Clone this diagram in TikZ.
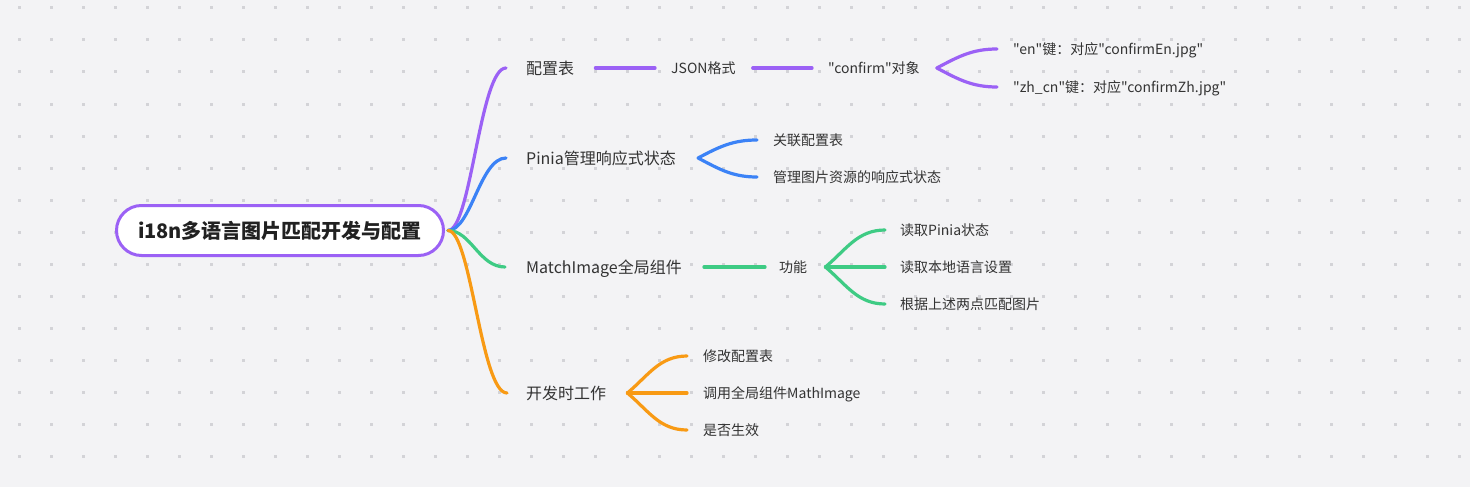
\documentclass[tikz,border=0pt]{standalone}
\usepackage{fontspec}
\setmainfont{Noto Sans CJK SC}[Ligatures=TeXOff]
\usetikzlibrary{positioning}

\definecolor{bgc}{HTML}{F3F3F5}
\definecolor{dotc}{HTML}{D3D3D7}
\definecolor{txtc}{HTML}{333333}
\definecolor{purp}{HTML}{9B61F5}
\definecolor{blu}{HTML}{3B82F6}
\definecolor{grn}{HTML}{3ECB84}
\definecolor{orng}{HTML}{F89A14}

\begin{document}
\begin{tikzpicture}[x=1pt,y=-1pt,line cap=round,
    root node/.style={draw=purp,line width=3pt,fill=white,rounded corners=25pt,minimum width=327pt,minimum height=50pt,inner sep=0pt,text=black!87,font=\fontsize{20}{24}\selectfont\bfseries},
    lvl1 node/.style={anchor=west,inner sep=0pt,text=txtc,text height=13pt,text depth=0.6pt,font=\fontsize{16}{19}\selectfont},
    lvl2 node/.style={anchor=west,inner sep=0pt,text=txtc,text height=11.4pt,text depth=0.6pt,font=\fontsize{14}{17}\selectfont},
    branch/.style={line width=3.2pt}]
    % background and dot grid
    \fill[bgc] (0,0) rectangle (1470,487);
    \foreach \i in {0,...,45}
        \foreach \j in {0,...,14}
            \fill[dotc] (19+32*\i-1.5,8+32*\j-1.5) rectangle +(3,3);

    \node[root node] (root) at (280,230.5) {i18n多语言图片匹配开发与配置};
    \coordinate (hub) at ([xshift=3pt]root.east);

    % first level
    \node[lvl1 node] (cfg) at (526,68) {配置表};
    \node[lvl1 node] (pinia) at (526,158) {Pinia管理响应式状态};
    \node[lvl1 node] (match) at (526,267) {MatchImage全局组件};
    \node[lvl1 node] (dev) at (526,393) {开发时工作};

    % second level
    \node[lvl2 node] (json) at (671,68) {JSON格式};
    \node[lvl2 node] (confirm) at (828,68) {"confirm"对象};
    \node[lvl2 node] (en) at (1013,49) {"en"键：对应"confirmEn.jpg"};
    \node[lvl2 node] (zh) at (1013,87) {"zh\_cn"键：对应"confirmZh.jpg"};

    \node[lvl2 node] (link) at (773,140) {关联配置表};
    \node[lvl2 node] (state) at (773,177) {管理图片资源的响应式状态};

    \node[lvl2 node] (func) at (779,267) {功能};
    \node[lvl2 node] (rdpinia) at (900,230) {读取Pinia状态};
    \node[lvl2 node] (rdlang) at (900,267) {读取本地语言设置};
    \node[lvl2 node] (pick) at (900,304) {根据上述两点匹配图片};

    \node[lvl2 node] (edit) at (703,356) {修改配置表};
    \node[lvl2 node] (call) at (703,393) {调用全局组件MathImage};
    \node[lvl2 node] (check) at (703,430) {是否生效};

    % branches from the root
    \draw[branch,purp] (hub) .. controls +(23,0) and +(-26,0) .. ([xshift=-20pt]cfg.west);
    \draw[branch,blu] (hub) .. controls +(23,0) and +(-26,0) .. ([xshift=-20pt]pinia.west);
    \draw[branch,grn] (hub) .. controls +(23,0) and +(-26,0) .. ([xshift=-21pt]match.west);
    \draw[branch,orng] (hub) .. controls +(23,0) and +(-26,0) .. ([xshift=-19pt]dev.west);

    % purple
    \draw[branch,purp] ([xshift=21pt]cfg.east) -- ([xshift=-16pt]json.west);
    \draw[branch,purp] ([xshift=17pt]json.east) -- ([xshift=-16pt]confirm.west);
    \coordinate (cfork) at ([xshift=17pt]confirm.east);
    \draw[branch,purp] (cfork) to[out=28,in=180] ([xshift=-16pt]en.west);
    \draw[branch,purp] (cfork) to[out=-28,in=180] ([xshift=-16pt]zh.west);

    % blue
    \coordinate (pfork) at ([xshift=22pt]pinia.east);
    \draw[branch,blu] (pfork) to[out=28,in=180] ([xshift=-16pt]link.west);
    \draw[branch,blu] (pfork) to[out=-28,in=180] ([xshift=-16pt]state.west);

    % green
    \draw[branch,grn] ([xshift=22pt]match.east) -- ([xshift=-14pt]func.west);
    \coordinate (ffork) at ([xshift=18pt]func.east);
    \draw[branch,grn] (ffork) to[out=40,in=180] ([xshift=-15pt]rdpinia.west);
    \draw[branch,grn] (ffork) -- ([xshift=-15pt]rdlang.west);
    \draw[branch,grn] (ffork) to[out=-40,in=180] ([xshift=-15pt]pick.west);

    % orange
    \coordinate (dfork) at ([xshift=21pt]dev.east);
    \draw[branch,orng] (dfork) to[out=40,in=180] ([xshift=-16pt]edit.west);
    \draw[branch,orng] (dfork) -- ([xshift=-16pt]call.west);
    \draw[branch,orng] (dfork) to[out=-40,in=180] ([xshift=-16pt]check.west);
\end{tikzpicture}
\end{document}
